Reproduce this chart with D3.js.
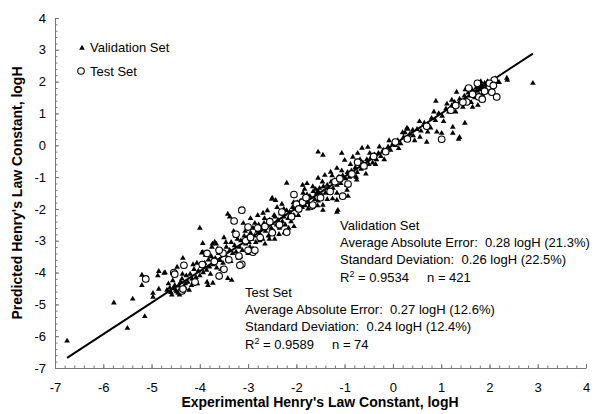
<!DOCTYPE html>
<html>
<head>
<meta charset="utf-8">
<script src="https://cdn.jsdelivr.net/npm/d3@7"></script>
<style>
  body { margin: 0; background: #fff; }
  svg { font-family: "Liberation Sans", Arial, sans-serif; }
  .axis path, .axis line { stroke: #777; }
  .axis text { font-size: 13px; fill: #000; }
  .note { font-size: 13px; fill: #000; white-space: pre; }
  .title { font-size: 14px; font-weight: bold; fill: #000; }
</style>
</head>
<body>
<svg width="600" height="414"></svg>
<script>
// validation set (triangles): experimental vs predicted logH
var validation = [
  [-6.75,-6.15],[-5.78,-4.95],[-5.39,-4.83],[-5.5,-5.75],[-5.14,-5.38],[-5.2,-4.4],[-5.2,-4.08],
  [-4.97,-4.65],[-4.97,-4.77],[-4.87,-4.1],[-4.85,-3.96],[-4.72,-4.0],[-4.85,-4.52],[-4.74,-4.02],
  [-4.47,-3.83],[-4.35,-3.55],[-4.06,-3.7],[-4.0,-2.6],[-3.94,-3.08],[-3.94,-3.36],[-3.69,-3.04],
  [-3.66,-3.1],[-3.42,-2.16],[-3.38,-2.25],[-2.2,-1.19],[-2.51,-1.69],[-2.43,-1.73],[-2.69,-2.13],
  [-1.55,-0.21],[-1.45,-0.31],[-1.06,-0.25],[-1.16,-2.1],[-0.75,-1.09],[0.89,1.39],[1.32,1.67],
  [1.22,1.42],[2.9,1.95],[2.36,2.11],[2.37,2.05],
  [-4.17,-4.4],[-3.85,-4.3],[-3.83,-4.4],[-3.73,-4.33],[-3.58,-4.08],[-3.42,-4.18],[-3.34,-4.24],
  [-4.55,-4.5],[-4.45,-4.65],[-4.6,-4.62],[-4.5,-4.55],[-4.4,-4.3],[-4.3,-4.35],[-4.3,-4.5],
  [-1.45,-1.88],[-1.45,-2.04],[-1.14,-2.04],[-1.16,-1.72],[-1.25,-1.68],[-0.95,-1.41],[-0.93,-1.6],
  [0.31,0.51],[0.72,0.42],[0.91,0.42],[1.01,0.38],[1.24,0.57],[1.24,0.38],[1.49,0.7],[1.36,0.19],
  [0.56,0.26],[0.7,0.1],[0.41,0.48],[1.65,1.2],[1.76,1.26],[1.45,1.2],[1.38,0.25],
  [-1.87,-1.25],[-1.83,-1.38],[-1.55,-1.03],[-1.41,-0.94],[-1.29,-0.84],[-1.16,-0.72],[-1.0,-0.47],
  [-0.83,-0.37],[-0.73,-0.25],[-0.64,-0.09],[-0.52,-0.06],[-3.96,-3.38],[-3.74,-3.1],
  [-2.5,-1.66],[-2.3,-1.85],[-1.78,-1.2],[-1.6,-1.38],[-1.55,-1.45],
  [-4.68,-4.55],[-4.62,-4.48],[-4.58,-4.7],[-4.52,-4.4],[-4.48,-4.6],[-4.44,-4.42],[-4.4,-4.5],
  [-4.37,-4.2],[-4.33,-4.45],[-4.28,-4.1],[-4.25,-4.3],[-4.2,-4.05],[-4.16,-4.2],[-4.12,-3.9],
  [-4.08,-4.15],[-4.03,-3.95],[-4.0,-4.1],
  [-3.97,-3.8],[-3.93,-4.0],[-3.9,-3.7],[-3.86,-3.92],[-3.82,-3.6],[-3.8,-3.82],[-3.76,-3.5],
  [-3.72,-3.75],[-3.68,-3.55],[-3.65,-3.85],[-3.61,-3.4],[-3.58,-3.62],[-3.55,-3.3],[-3.52,-3.7],
  [-3.48,-3.45],[-3.45,-3.2],[-3.42,-3.55],[-3.38,-3.3],[-3.35,-3.05],[-3.32,-3.4],[-3.28,-3.15],
  [-3.25,-3.35],[-3.22,-2.95],[-3.18,-3.2],[-3.15,-3.0],[-3.12,-3.3],[-3.08,-2.85],[-3.05,-3.1],
  [-3.02,-2.9],
  [-2.98,-3.05],[-2.95,-2.75],[-2.92,-2.95],[-2.9,-2.6],[-2.87,-2.85],[-2.84,-3.05],[-2.81,-2.7],
  [-2.78,-2.5],[-2.75,-2.8],[-2.72,-2.6],[-2.7,-2.95],[-2.67,-2.45],[-2.64,-2.7],[-2.61,-2.55],
  [-2.58,-2.85],[-2.55,-2.35],[-2.52,-2.6],[-2.5,-2.45],[-2.47,-2.7],[-2.44,-2.25],[-2.41,-2.5],
  [-2.38,-2.35],[-2.35,-2.6],[-2.32,-2.15],[-2.29,-2.4],[-2.26,-2.25],[-2.23,-2.5],[-2.2,-2.05],
  [-2.17,-2.3],[-2.14,-2.1],[-2.11,-2.4],[-2.08,-1.95],[-2.05,-2.2],[-2.02,-2.0],
  [-2.95,-2.3],[-2.8,-2.2],[-2.6,-2.05],[-2.4,-1.95],[-3.1,-2.45],[-3.3,-2.7],[-3.5,-2.9],[-3.75,-3.2],
  [-2.9,-3.25],[-2.65,-3.1],[-2.45,-2.95],[-2.25,-2.75],[-2.05,-2.55],[-3.2,-3.55],[-3.0,-3.4],
  [-1.98,-1.8],[-1.95,-2.05],[-1.92,-1.75],[-1.88,-1.95],[-1.85,-1.65],[-1.82,-1.9],[-1.78,-1.55],
  [-1.75,-1.8],[-1.72,-1.6],[-1.68,-1.85],[-1.65,-1.45],[-1.62,-1.7],[-1.58,-1.5],[-1.55,-1.75],
  [-1.52,-1.35],[-1.48,-1.55],[-1.44,-1.3],[-1.4,-1.5],[-1.36,-1.25],[-1.32,-1.4],[-1.28,-1.15],
  [-1.24,-1.35],[-1.2,-1.1],[-1.16,-1.25],[-1.12,-1.0],[-1.08,-1.2],[-1.04,-0.95],
  [-0.98,-1.05],[-0.94,-0.85],[-0.9,-1.0],[-0.86,-0.8],[-0.82,-0.95],[-0.78,-0.7],[-0.74,-0.85],
  [-0.7,-0.6],[-0.66,-0.75],[-0.62,-0.55],[-0.58,-0.7],[-0.54,-0.45],[-0.5,-0.6],[-0.46,-0.4],
  [-0.42,-0.55],[-0.38,-0.3],[-0.34,-0.45],[-0.3,-0.25],[-0.25,-0.35],[-0.2,-0.15],[-0.15,-0.25],
  [-0.1,-0.05],[-0.05,-0.15],[0.0,0.05],
  [0.05,0.0],[0.1,0.15],[0.16,0.05],[0.22,0.25],[0.28,0.18],[0.35,0.35],[0.42,0.3],[0.5,0.5],
  [0.58,0.45],[0.65,0.7],[0.72,0.62],[0.8,0.85],[0.88,0.78],[0.95,1.0],[1.02,0.92],[1.1,1.15],
  [1.16,1.05],
  [1.22,1.25],[1.28,1.35],[1.33,1.25],[1.38,1.45],[1.42,1.38],[1.48,1.55],[1.52,1.45],[1.56,1.65],
  [1.6,1.55],[1.64,1.75],[1.68,1.65],[1.72,1.8],[1.75,1.7],[1.78,1.85],[1.8,1.75],[1.83,1.9],
  [1.86,1.8],[1.9,1.95],[1.93,1.85],[1.96,2.0],[2.0,1.9],[2.05,2.02],[2.1,1.95],[2.15,2.05],
  [2.2,1.98],[1.85,1.6],[1.7,1.5],[2.02,1.75],[0.29,0.54],[0.25,0.4],
  [-4.65,-4.35],[-4.56,-4.25],[-4.42,-4.7],[-4.36,-4.05],[-4.22,-4.55],[-4.14,-3.75],[-4.05,-4.35],
  [-3.88,-3.45],[-3.78,-4.05],[-3.63,-3.25],[-3.56,-3.9],[-3.46,-3.05],[-3.36,-3.65],[-3.26,-2.85],
  [-3.16,-3.5],[-3.06,-2.7],[-2.96,-3.2],[-2.86,-2.45],[-2.76,-3.0],[-2.66,-2.3],[-2.56,-2.95],
  [-2.46,-2.2],[-2.36,-2.8],[-2.26,-2.0],[-2.16,-2.6],[-2.06,-1.8],[-1.96,-2.2],[-1.86,-1.5],
  [-1.76,-2.0],[-1.66,-1.3],[-1.56,-1.9],[-1.46,-1.15],[-1.36,-1.7],[-1.26,-0.95],[-1.16,-1.5],
  [-1.06,-0.8],[-0.96,-1.25],[-0.88,-0.6],[-0.76,-1.0],[-0.68,-0.45],[-0.56,-0.9],[-0.48,-0.25],
  [-0.36,-0.6],[-0.28,-0.05],[-0.18,-0.45],[-0.08,0.15],[0.12,-0.1],[0.2,0.4],[0.45,0.15],
  [0.55,0.75],[0.78,0.55],[0.85,1.05],[1.05,0.75],[1.12,1.3],[1.3,1.05],[1.5,1.75],[1.62,1.35],
  [1.82,2.0],[1.98,1.7],[2.12,2.1]
];

// test set (open circles)
var test = [
  [-5.12,-4.2],[-4.54,-4.0],[-4.37,-4.58],[-4.35,-4.52],[-4.33,-3.77],[-4.52,-4.05],[-3.13,-2.04],
  [-3.29,-2.38],[-3.6,-4.11],[-3.5,-3.9],[-3.52,-3.39],[-3.13,-3.74],[-3.17,-3.77],[-3.19,-3.48],
  [-2.9,-3.36],[-3.0,-3.3],[-2.86,-3.3],[-3.0,-2.57],[-2.2,-2.73],[-1.68,-1.91],[-1.87,-1.79],
  [-1.66,-1.88],[-0.73,-0.53],[-0.93,-1.22],[-1.04,-1.6],[1.01,0.19],[1.57,1.8],[1.53,1.36],
  [1.78,1.52],[2.0,1.83],[2.05,1.67],[2.15,1.52],[2.1,2.05],[2.0,1.95],[1.9,1.7],[1.85,1.45],
  [-3.85,-3.4],[-3.7,-3.65],[-3.4,-3.6],[-3.25,-2.8],[-3.05,-3.0],[-2.75,-2.9],[-2.65,-2.55],
  [-2.5,-2.75],[-2.35,-2.5],[-2.3,-2.1],[-2.1,-2.25],[-2.0,-1.85],[-1.8,-1.65],[-1.5,-1.65],
  [-1.3,-1.45],[-1.2,-1.15],[-0.85,-0.9],[-0.6,-0.65],[-0.4,-0.35],[-0.15,-0.2],[0.3,0.2],
  [0.7,0.6],[1.3,1.25],[1.45,1.35],[1.65,1.6],[1.75,1.95],[-2.8,-2.6],[-2.05,-1.55],[-3.6,-3.3],
  [-4.1,-4.3],[-3.95,-3.75],[-2.95,-2.9],[-2.55,-2.4],[-1.95,-2.0],[-1.1,-1.05],[0.05,0.1],
  [1.2,1.1],[2.08,1.88]
];

// regression line end points
var fitLine = [[-6.75,-6.68],[2.9,2.88]];

var xDomain = [-7, 4];
var yDomain = [-7, 4];
var majorTicks = [-7,-6,-5,-4,-3,-2,-1,0,1,2,3,4];

var validationStats = ["Validation Set",
  "Average Absolute Error:  0.28 logH (21.3%)",
  "Standard Deviation:  0.26 logH (22.5%)"];
var validationR = ["0.9534", "421"];
var testStats = ["Test Set",
  "Average Absolute Error:  0.27 logH (12.6%)",
  "Standard Deviation:  0.24 logH (12.4%)"];
var testR = ["0.9589", "74"];

var svg = d3.select("svg");

var x = d3.scaleLinear().domain(xDomain).range([55, 586]);
var y = d3.scaleLinear().domain(yDomain).range([368, 18]);

var minor = d3.range(-70, 41, 2).map(function (d) { return d / 10; });
var plainFormat = function (d) { return String(d); };

// minor ticks first
svg.append("g")
    .attr("class", "axis")
    .attr("transform", "translate(0,368)")
    .call(d3.axisBottom(x).tickValues(minor).tickSize(-2.5).tickFormat(""))
    .select(".domain").remove();
svg.append("g")
    .attr("class", "axis")
    .attr("transform", "translate(55,0)")
    .call(d3.axisLeft(y).tickValues(minor).tickSize(-2.5).tickFormat(""))
    .select(".domain").remove();

svg.append("g")
    .attr("class", "axis")
    .attr("transform", "translate(0,368)")
    .call(d3.axisBottom(x).tickValues(majorTicks).tickFormat(plainFormat)
        .tickSize(-4).tickSizeOuter(0).tickPadding(15));

svg.append("g")
    .attr("class", "axis")
    .attr("transform", "translate(55,0)")
    .call(d3.axisLeft(y).tickValues(majorTicks).tickFormat(plainFormat)
        .tickSize(-4).tickSizeOuter(0).tickPadding(9));

svg.selectAll(".axis").attr("font-family", null).attr("font-size", null);

// regression line
svg.append("path")
    .datum(fitLine)
    .attr("fill", "none")
    .attr("stroke", "#000")
    .attr("stroke-width", 2)
    .attr("d", d3.line().x(function (d) { return x(d[0]); }).y(function (d) { return y(d[1]); }));

var tri = d3.symbol().type(d3.symbolTriangle).size(14);

svg.append("g").selectAll("path")
    .data(validation)
    .enter().append("path")
    .attr("d", tri)
    .attr("fill", "#000")
    .attr("transform", function (d) { return "translate(" + x(d[0]) + "," + y(d[1]) + ")"; });

svg.append("g").selectAll("circle")
    .data(test)
    .enter().append("circle")
    .attr("cx", function (d) { return x(d[0]); })
    .attr("cy", function (d) { return y(d[1]); })
    .attr("r", 3.3)
    .attr("fill", "#fff")
    .attr("stroke", "#000")
    .attr("stroke-width", 1.1);

// legend
svg.append("path").attr("d", tri).attr("fill", "#000").attr("transform", "translate(82,48)");
svg.append("text").attr("class", "note").attr("x", 90).attr("y", 52).text("Validation Set");
svg.append("circle").attr("cx", 81).attr("cy", 71).attr("r", 3.3)
    .attr("fill", "#fff").attr("stroke", "#000").attr("stroke-width", 1.1);
svg.append("text").attr("class", "note").attr("x", 90).attr("y", 76).text("Test Set");

function statsBlock(lines, r, n, x0, y0) {
    lines.forEach(function (t, i) {
        svg.append("text").attr("class", "note").attr("x", x0).attr("y", y0 + i * 17).text(t);
    });
    var t = svg.append("text").attr("class", "note").attr("x", x0).attr("y", y0 + 3 * 17 + 1);
    t.append("tspan").text("R");
    t.append("tspan").attr("dy", -5).attr("font-size", 9).text("2");
    t.append("tspan").attr("dy", 5).text(" = " + r + "     n = " + n);
}

statsBlock(validationStats, validationR[0], validationR[1], 340, 230);
statsBlock(testStats, testR[0], testR[1], 245, 297);

// axis titles
svg.append("text").attr("class", "title")
    .attr("x", 320).attr("y", 407)
    .attr("text-anchor", "middle")
    .text("Experimental Henry's Law Constant, logH");

svg.append("text").attr("class", "title")
    .attr("transform", "translate(22,193) rotate(-90)")
    .attr("text-anchor", "middle")
    .text("Predicted Henry's Law Constant, logH");
</script>
</body>
</html>
